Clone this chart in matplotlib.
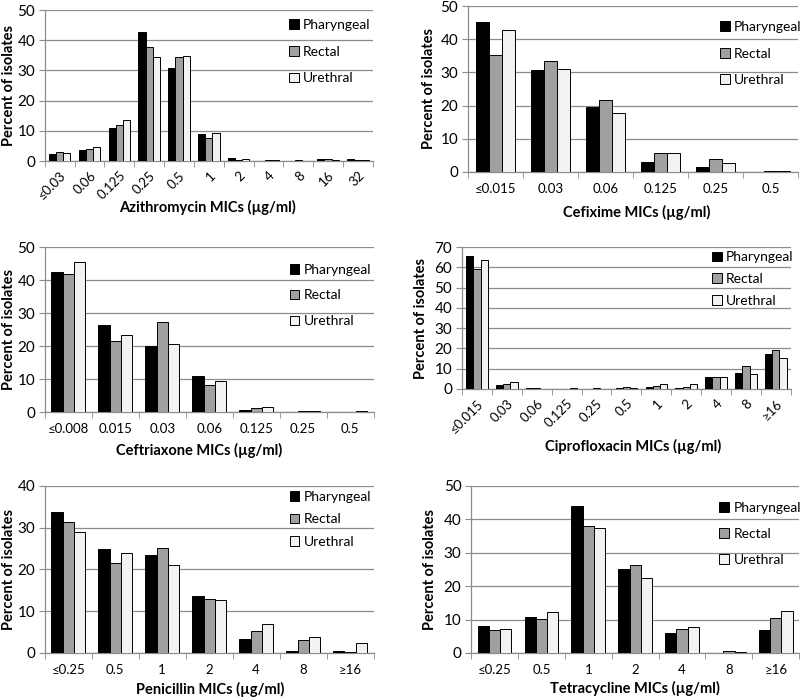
import matplotlib
matplotlib.use("Agg")
import matplotlib.pyplot as plt
from matplotlib.patches import Patch
import numpy as np

plt.rcParams['font.family'] = ['Lato', 'DejaVu Sans']

series = ['Pharyngeal', 'Rectal', 'Urethral']
colors = ['#000000', '#a0a0a0', '#f2f2f2']

azi_cats = ['≤0.03', '0.06', '0.125', '0.25', '0.5', '1', '2', '4', '8', '16', '32']
azi_phar = [2.2, 3.6, 10.9, 42.7, 30.9, 9.0, 1.1, 0.0, 0.0, 0.6, 0.6]
azi_rect = [3.1, 4.0, 12.0, 37.7, 34.6, 7.7, 0.5, 0.4, 0.3, 0.8, 0.2]
azi_ure = [2.5, 4.8, 13.5, 34.6, 34.8, 9.2, 0.6, 0.3, 0.1, 0.2, 0.4]

cfx_cats = ['≤0.015', '0.03', '0.06', '0.125', '0.25', '0.5']
cfx_phar = [45.3, 30.7, 19.6, 3.0, 1.6, 0.0]
cfx_rect = [35.3, 33.3, 21.6, 5.6, 3.9, 0.3]
cfx_ure = [42.7, 30.9, 17.7, 5.6, 2.8, 0.3]

cro_cats = ['≤0.008', '0.015', '0.03', '0.06', '0.125', '0.25', '0.5']
cro_phar = [42.5, 26.5, 20.1, 10.9, 0.6, 0.0, 0.0]
cro_rect = [41.9, 21.6, 27.4, 8.1, 1.2, 0.4, 0.0]
cro_ure = [45.4, 23.2, 20.7, 9.4, 1.6, 0.2, 0.2]

cip_cats = ['≤0.015', '0.03', '0.06', '0.125', '0.25', '0.5', '1', '2', '4', '8', '≥16']
cip_phar = [65.7, 1.8, 0.5, 0.0, 0.0, 0.5, 1.0, 0.5, 5.7, 8.0, 17.5]
cip_rect = [59.0, 2.3, 0.4, 0.0, 0.4, 0.8, 1.6, 1.0, 5.7, 11.3, 19.0]
cip_ure = [63.8, 3.3, 0.2, 0.3, 0.2, 0.4, 2.7, 2.3, 5.7, 7.4, 15.1]

pen_cats = ['≤0.25', '0.5', '1', '2', '4', '8', '≥16']
pen_phar = [33.7, 24.8, 23.4, 13.7, 3.4, 0.5, 0.5]
pen_rect = [31.4, 21.5, 25.2, 13.0, 5.3, 3.0, 0.3]
pen_ure = [28.9, 24.0, 21.1, 12.8, 6.9, 3.8, 2.5]

tet_cats = ['≤0.25', '0.5', '1', '2', '4', '8', '≥16']
tet_phar = [8.0, 10.8, 43.9, 25.0, 6.0, 0.0, 6.9]
tet_rect = [7.0, 10.3, 37.9, 26.4, 7.3, 0.7, 10.4]
tet_ure = [7.2, 12.4, 37.4, 22.3, 7.8, 0.2, 12.6]

fig = plt.figure(figsize=(8, 6.98), dpi=100)

# (rect, cats, data, xlabel, ymax, rotate, xlabel pos, ylabel pos, legend anchor, legend spacing)
panels = [
    ([0.056, 0.7693, 0.41, 0.2163], azi_cats, [azi_phar, azi_rect, azi_ure],
     'Azithromycin MICs (µg/ml)', 50, True, (0.497, -0.258), (-0.088, 0.5), (0.745, 0.94), 1.05),
    ([0.585, 0.7536, 0.4125, 0.2378], cfx_cats, [cfx_phar, cfx_rect, cfx_ure],
     'Cefixime MICs (µg/ml)', 50, False, (0.51, -0.199), (-0.097, 0.5), (0.764, 0.91), 1.05),
    ([0.056, 0.4097, 0.411, 0.2364], cro_cats, [cro_phar, cro_rect, cro_ure],
     'Ceftriaxone MICs (µg/ml)', 50, False, (0.47, -0.185), (-0.088, 0.5), (0.745, 0.90), 1.0),
    ([0.5775, 0.4427, 0.411, 0.2034], cip_cats, [cip_phar, cip_rect, cip_ure],
     'Ciprofloxacin MICs (µg/ml)', 70, True, (0.52, -0.35), (-0.103, 0.5), (0.76, 0.97), 0.7),
    ([0.056, 0.0645, 0.411, 0.2393], pen_cats, [pen_phar, pen_rect, pen_ure],
     'Penicillin MICs (µg/ml)', 40, False, (0.503, -0.172), (-0.088, 0.5), (0.745, 0.97), 0.75),
    ([0.589, 0.0645, 0.41, 0.2393], tet_cats, [tet_phar, tet_rect, tet_ure],
     'Tetracycline MICs (µg/ml)', 50, False, (0.5, -0.168), (-0.103, 0.5), (0.757, 0.904), 1.0),
]

w = 0.24
for rect, cats, data, xlabel, ymax, rotate, xlpos, ylpos, leg_anchor, leg_sp in panels:
    ax = fig.add_axes(rect)
    x = np.arange(len(cats))
    for i, vals in enumerate(data):
        ax.bar(x + (i - 1) * w, vals, width=w, color=colors[i],
               edgecolor='black', linewidth=0.7, zorder=3)
    ax.set_xlim(-0.5, len(cats) - 0.5)
    ax.set_ylim(0, ymax)
    ax.set_yticks(np.arange(0, ymax + 1, 10))
    ax.yaxis.grid(True, color='#8c8c8c', linewidth=0.9, zorder=0)
    ax.set_xticks(x)
    ax.set_xticks(np.arange(-0.5, len(cats)), minor=True)
    if rotate:
        ax.set_xticklabels(cats, rotation=45, ha='right', rotation_mode='anchor', fontsize=9.5)
        ax.tick_params(axis='x', which='major', length=0, pad=6)
    else:
        ax.set_xticklabels(cats, fontsize=9.5)
        ax.tick_params(axis='x', which='major', length=0, pad=8)
    ax.tick_params(axis='x', which='minor', length=4, color='#8c8c8c', direction='out')
    ax.tick_params(axis='y', length=4, color='#8c8c8c', labelsize=11, pad=3)
    for s in ['top', 'right']:
        ax.spines[s].set_visible(False)
    for s in ['left', 'bottom']:
        ax.spines[s].set_color('#8c8c8c')
        ax.spines[s].set_linewidth(0.9)
    ax.set_xlabel(xlabel, fontsize=10.5, fontweight='bold')
    ax.xaxis.set_label_coords(*xlpos)
    ax.set_ylabel('Percent of isolates', fontsize=10.5, fontweight='bold')
    ax.yaxis.set_label_coords(*ylpos)
    handles = [Patch(facecolor=colors[i], edgecolor='black', linewidth=0.7, label=series[i])
               for i in range(3)]
    ax.legend(handles=handles, loc='upper left', bbox_to_anchor=leg_anchor, frameon=False,
              fontsize=10, handlelength=0.7, handleheight=0.7, handletextpad=0.3,
              labelspacing=leg_sp, borderpad=0, borderaxespad=0)

fig.savefig('out.png', dpi=100)
